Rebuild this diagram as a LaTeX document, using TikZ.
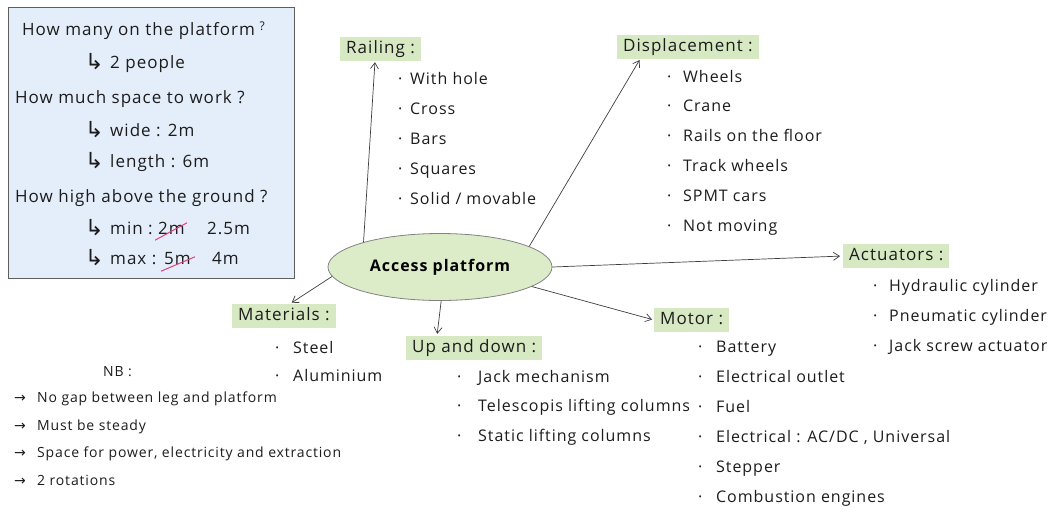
\documentclass[tikz,border=0pt]{standalone}
\usepackage{fontspec}
\setmainfont{Open Sans}[LetterSpace=6]
\newfontfamily\symfont{DejaVu Sans}
\usetikzlibrary{arrows.meta,shapes.geometric}

\definecolor{notebg}{HTML}{E4EEFA}
\definecolor{notebd}{HTML}{5E5E5E}
\definecolor{tagbg}{HTML}{D6E9C3}
\definecolor{hubbg}{HTML}{DCEBC8}
\definecolor{ink}{HTML}{1C1C1C}
\definecolor{strikepink}{HTML}{E2407C}

% bullet with a fixed gap before the item text
\newcommand\itemdot[2]{\makebox[#1][l]{·}#2}
\newcommand\hook{\makebox[25pt][l]{\raisebox{-1pt}{\scalebox{1.3}{\symfont ↳}}}}

\begin{document}
\begin{tikzpicture}[x=1pt,y=-1pt,
  hand/.style={font=\fontsize{17}{20}\selectfont, text=ink, inner sep=0pt,
               text height=12pt, text depth=4pt, anchor=west},
  entry/.style={font=\fontsize{16}{19}\selectfont, text=ink, inner sep=0pt,
               text height=12pt, text depth=4pt, anchor=west},
  small/.style={font=\fontsize{14}{17}\selectfont, text=ink, inner sep=0pt,
               text height=10pt, text depth=3pt, anchor=west},
  tag/.style={fill=tagbg, font=\fontsize{17}{20}\selectfont, text=ink,
              inner xsep=6pt, inner ysep=0pt, text height=12pt, text depth=4pt,
              minimum height=24pt, anchor=west},
  link/.style={draw=ink!85, line width=0.7pt,
               -{Straight Barb[length=6pt,width=8pt]}},
  strikeline/.style={draw=strikepink, line width=1pt},
  ]
\useasboundingbox (0,0) rectangle (1052,515);

% question box
\node[draw=notebd, fill=notebg, line width=0.9pt, minimum width=286pt,
      minimum height=271pt, anchor=north west, inner sep=0pt] (notes) at (8,7) {};
\node[hand] (q1) at (22,31) {How many on the platform\;\raisebox{5pt}{\fontsize{12}{12}\selectfont ?}};
\node[hand] (a1) at (85,64) {\hook 2 people};
\node[hand] (q2) at (15,99) {How much space to work ?};
\node[hand] (a2) at (85,132) {\hook wide : 2m};
\node[hand] (a3) at (85,163) {\hook length : 6m};
\node[hand] (q3) at (15,198) {How high above the ground ?};
\node[hand] (a4) at (85,230) {\hook min :};
\node[hand] (minold) at (158,230) {2m};
\node[hand] (minnew) at (207,230) {2.5m};
\node[hand] (a5) at (85,260) {\hook max :};
\node[hand] (maxold) at (164,260) {5m};
\node[hand] (maxnew) at (212,260) {4m};
\draw[strikeline] ([shift={(-3pt,-2pt)}]minold.south west) -- ([shift={(2pt,-1pt)}]minold.north east);
\draw[strikeline] ([shift={(-3pt,-3pt)}]maxold.south west) -- ([shift={(4pt,-5pt)}]maxold.north east);

% central topic
\node[ellipse, draw=ink!55, fill=hubbg, line width=0.8pt, minimum width=224pt,
      minimum height=67pt, inner sep=0pt, text=black,
      font=\bfseries\fontsize{16}{19}\selectfont] (hub) at (440,267) {Access platform};

% branch headings
\node[tag] (railing) at (340,49) {Railing :};
\node[tag] (disp) at (617,47) {Displacement :};
\node[tag] (act) at (843,256) {Actuators :};
\node[tag] (mat) at (232,316) {Materials :};
\node[tag] (updown) at (406,348) {Up and down :};
\node[tag] (motor) at (654,320) {Motor :};

% connectors
\draw[link, shorten >=1pt] (hub.162) -- ([xshift=35pt]railing.south west);
\draw[link, shorten >=1pt] (hub.13) -- ([xshift=23pt]disp.south west);
\draw[link, shorten >=3pt] (hub.east) -- (act.west);
\draw[link, shorten >=2pt] (hub.185) -- ([xshift=58pt]mat.north west);
\draw[link, shorten >=2pt] (hub.272) -- ([xshift=31pt]updown.north west);
\draw[link, shorten >=2pt] (hub.348) -- (motor.west);

% item lists
\foreach \t [count=\i] in {With hole, Cross, Bars, Squares, Solid / movable}
  \node[entry] (rail\i) at (398,{80+30*(\i-1)}) {\itemdot{12pt}{\t}};
\foreach \t [count=\i] in {Wheels, Crane, Rails on the floor, Track wheels, SPMT cars, Not moving}
  \node[entry] (disp\i) at (667,{78+29.8*(\i-1)}) {\itemdot{16pt}{\t}};
\foreach \t [count=\i] in {Hydraulic cylinder, Pneumatic cylinder, Jack screw actuator}
  \node[entry] (act\i) at (873,{287+30*(\i-1)}) {\itemdot{16pt}{\t}};
\foreach \t [count=\i] in {Steel, Aluminium}
  \node[entry] (mat\i) at (275,{349+28*(\i-1)}) {\itemdot{18pt}{\t}};
\foreach \t [count=\i] in {Jack mechanism, Telescopis lifting columns, Static lifting columns}
  \node[entry] (up\i) at (457,{378+29.5*(\i-1)}) {\itemdot{21pt}{\t}};
\foreach \t [count=\i] in {Battery, Electrical outlet, Fuel, {Electrical : AC/DC , Universal}, Stepper, Combustion engines}
  \node[entry] (mot\i) at (698,{348+30*(\i-1)}) {\itemdot{18pt}{\t}};

% remarks
\node[small] (nb) at (103,373) {NB :};
\foreach \t [count=\i] in {No gap between leg and platform, Must be steady,
    {Space for power, electricity and extraction}, 2 rotations}
  \node[small] (nb\i) at (14,{399+27.7*(\i-1)}) {\makebox[23pt][l]{\symfont →}\t};
\end{tikzpicture}
\end{document}
